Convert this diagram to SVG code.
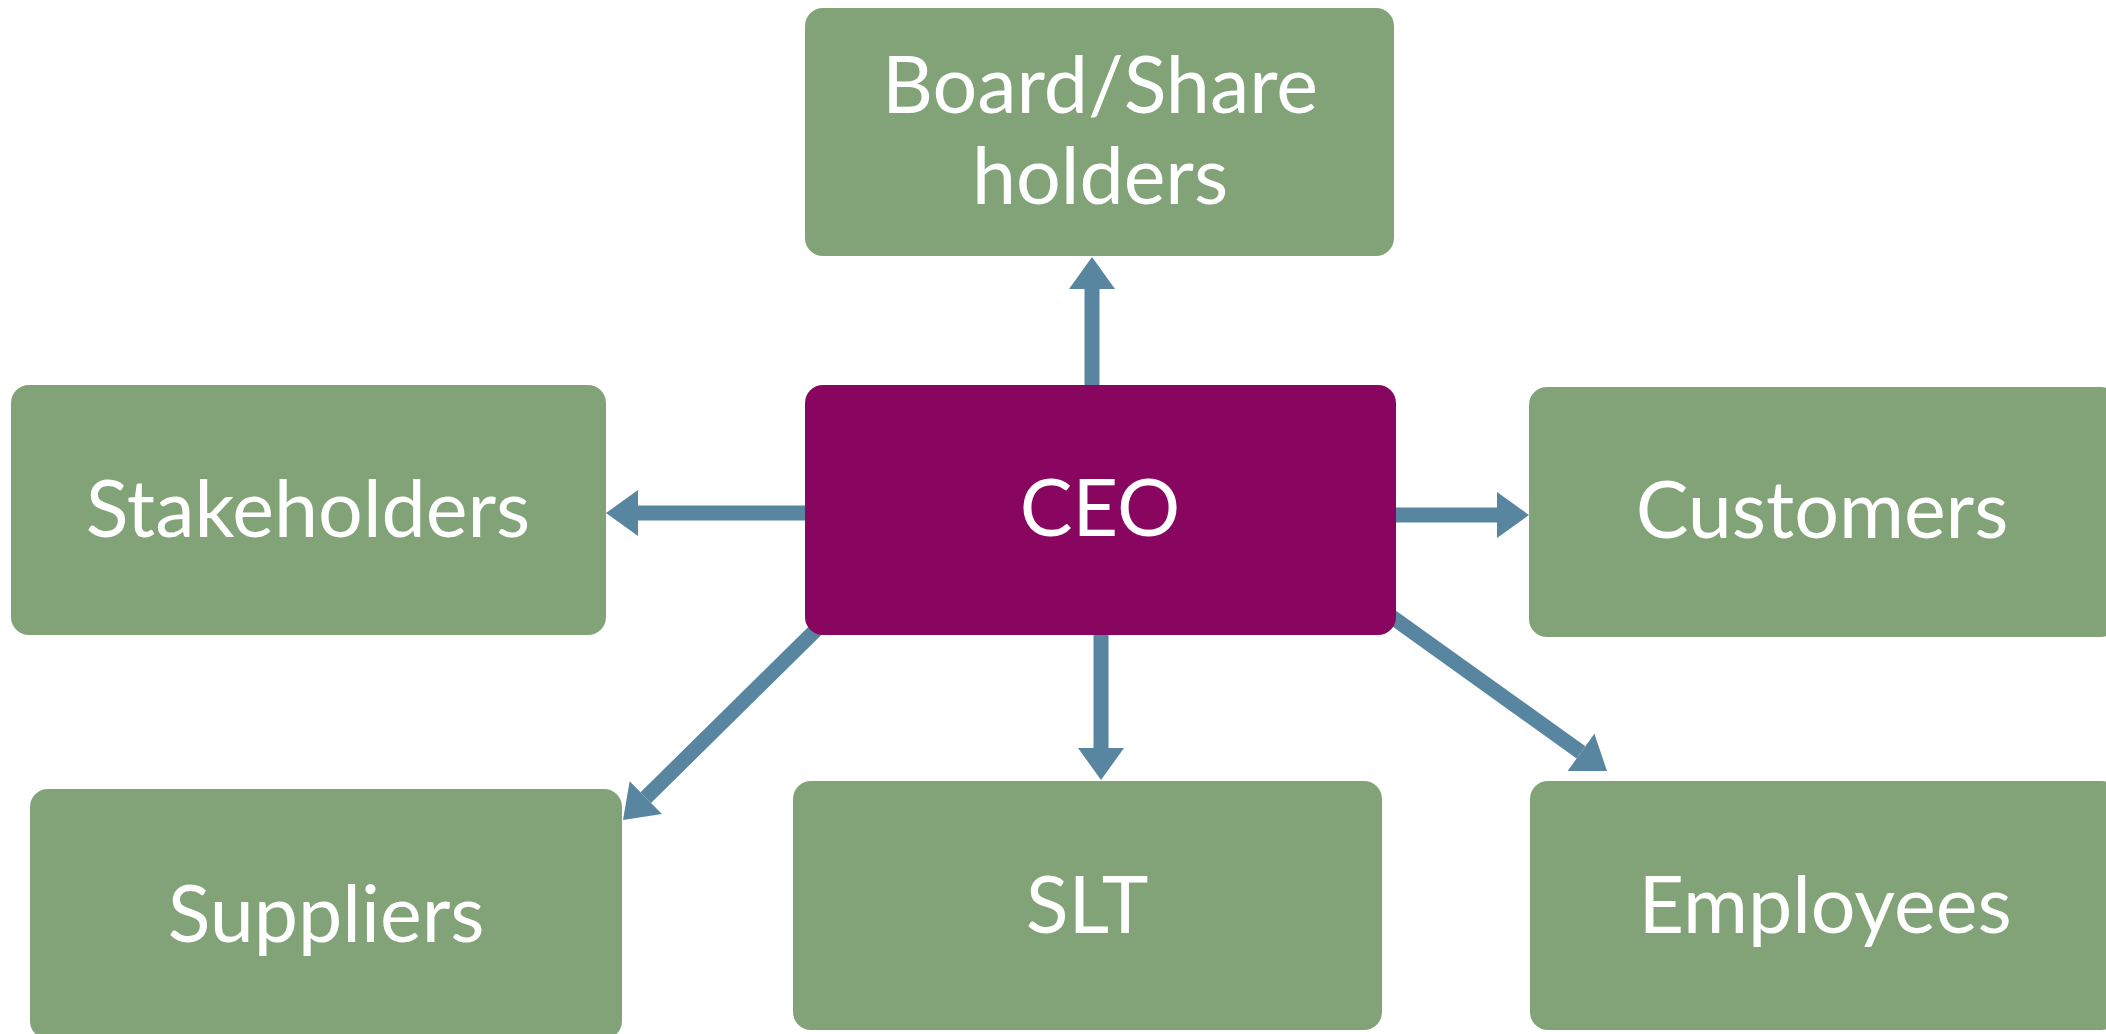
<svg xmlns="http://www.w3.org/2000/svg" width="2106" height="1034" viewBox="0 0 2106 1034">
  <style>
    .box { fill: #81A377; }
    .ceo { fill: #88065F; }
    .label { font-family: Lato, "Open Sans", "Liberation Sans", sans-serif; font-size: 79px; fill: #FFFFFF; text-anchor: middle; }
    .link { stroke: #5886A0; stroke-width: 15; fill: none; marker-end: url(#head); }
  </style>
  <defs>
    <marker id="head" markerUnits="userSpaceOnUse" markerWidth="40" markerHeight="50" viewBox="0 -25 34 50" refX="0" refY="0" orient="auto">
      <path d="M0,-23 L32,0 L0,23 z" fill="#5886A0"/>
    </marker>
  </defs>
  <rect width="2106" height="1034" fill="#FFFFFF"/>

  <!-- connectors from the CEO to each group -->
  <g id="connectors">
    <line class="link" x1="1092" y1="395" x2="1092" y2="289"/>
    <line class="link" x1="815" y1="513" x2="638" y2="513"/>
    <line class="link" x1="1386" y1="515" x2="1497" y2="515"/>
    <line class="link" x1="1101" y1="625" x2="1101" y2="748"/>
    <line class="link" x1="830" y1="616" x2="645.8" y2="797.6"/>
    <line class="link" x1="1385" y1="612" x2="1581" y2="752.4"/>
  </g>

  <g id="board">
    <rect class="box" x="805" y="8" width="589" height="248" rx="18"/>
    <text class="label" x="1100" y="113">Board/Share</text>
    <text class="label" x="1100" y="204">holders</text>
  </g>

  <g id="stakeholders">
    <rect class="box" x="11" y="385" width="595" height="250" rx="18"/>
    <text class="label" x="308" y="537">Stakeholders</text>
  </g>

  <g id="ceo">
    <rect class="ceo" x="805" y="385" width="591" height="250" rx="18"/>
    <text class="label" x="1100" y="536">CEO</text>
  </g>

  <g id="customers">
    <rect class="box" x="1529" y="387" width="590" height="250" rx="18"/>
    <text class="label" x="1822" y="538">Customers</text>
  </g>

  <g id="suppliers">
    <rect class="box" x="30" y="789" width="592" height="250" rx="18"/>
    <text class="label" x="326" y="942">Suppliers</text>
  </g>

  <g id="slt">
    <rect class="box" x="793" y="781" width="589" height="249" rx="18"/>
    <text class="label" x="1087" y="933">SLT</text>
  </g>

  <g id="employees">
    <rect class="box" x="1530" y="781" width="590" height="249" rx="18"/>
    <text class="label" x="1825" y="933">Employees</text>
  </g>
</svg>
